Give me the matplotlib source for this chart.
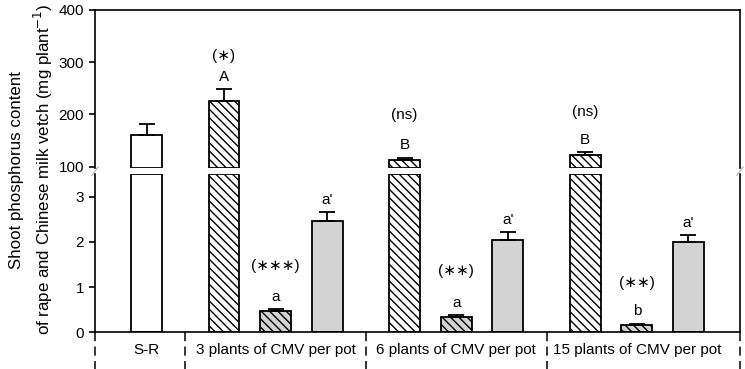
import numpy as np
import matplotlib
matplotlib.use("Agg")
import matplotlib.pyplot as plt
from matplotlib.lines import Line2D

plt.rcParams['font.family'] = ['Liberation Sans', 'DejaVu Sans']
plt.rcParams['hatch.linewidth'] = 1.0

# data (mg plant-1)
groups = ["S-R", "3 plants of CMV per pot", "6 plants of CMV per pot", "15 plants of CMV per pot"]
sole_rape = [160]
sole_rape_err = [21]
inter_rape = [225, 113, 123]
inter_rape_err = [23, 4, 5]
inter_cmv = [0.47, 0.345, 0.16]
inter_cmv_err = [0.04, 0.035, 0.03]
sole_cmv = [2.46, 2.04, 2.0]
sole_cmv_err = [0.19, 0.17, 0.15]
rape_letters = ["A", "B", "B"]
rape_sig = ["(\u2217)", "(ns)", "(ns)"]
cmv_letters = ["a", "a", "b"]
cmv_sig = ["(\u2217\u2217\u2217)", "(\u2217\u2217)", "(\u2217\u2217)"]
sole_cmv_letters = ["a'", "a'", "a'"]

# layout
W = 0.6
group_start = np.array([1.5, 5.0, 8.5])
x_sr = np.array([0.0])
x_ir = group_start
x_ic = group_start + 1
x_sc = group_start + 2
seps = [-1.0, 0.75, 4.25, 7.75, 11.5]
label_x = [0.0, 2.5, 6.0, 9.5]
top_lim = (97, 400)
bot_lim = (0, 3.5)
rape_sig_off = [24, 31, 29]   # points above the error cap
cmv_sig_off = [31, 32, 29]

fig = plt.figure(figsize=(7.45, 3.69), dpi=100)
ax_top = fig.add_axes([0.1275, 0.5439, 0.8658, 0.4290])
ax_bot = fig.add_axes([0.1275, 0.0995, 0.8658, 0.4290])

bar_kw = dict(width=W, edgecolor='black', linewidth=1.3, zorder=2)
err_kw = dict(fmt='none', ecolor='black', elinewidth=1.3, capsize=6, capthick=1.3, zorder=3)
gray = '#d3d3d3'
hatch = '\\\\\\\\'
fs = 11

# top panel: rape only (other bars are below the range)
lo = top_lim[0]
ax_top.bar(x_sr, np.array(sole_rape) - lo, bottom=lo, color='white', **bar_kw)
ax_top.bar(x_ir, np.array(inter_rape) - lo, bottom=lo, color='white', hatch=hatch, **bar_kw)
ax_top.errorbar(x_sr, sole_rape, yerr=[[0], sole_rape_err], **err_kw)
ax_top.errorbar(x_ir, inter_rape, yerr=[[0] * 3, inter_rape_err], **err_kw)

for x, v, e, let, sig, off in zip(x_ir, inter_rape, inter_rape_err, rape_letters, rape_sig, rape_sig_off):
    ax_top.annotate(let, (x, v + e), xytext=(0, 9), textcoords='offset points',
                    ha='center', va='center', fontsize=fs)
    ax_top.annotate(sig, (x, v + e), xytext=(0, off), textcoords='offset points',
                    ha='center', va='center', fontsize=fs)

# bottom panel
hi = bot_lim[1]
ax_bot.bar(x_sr, np.minimum(sole_rape, hi), color='white', **bar_kw)
ax_bot.bar(x_ir, np.minimum(inter_rape, hi), color='white', hatch=hatch, **bar_kw)
ax_bot.bar(x_ic, inter_cmv, color=gray, hatch=hatch, **bar_kw)
ax_bot.bar(x_sc, sole_cmv, color=gray, **bar_kw)
ax_bot.errorbar(x_ic, inter_cmv, yerr=[[0] * 3, inter_cmv_err], **err_kw)
ax_bot.errorbar(x_sc, sole_cmv, yerr=[[0] * 3, sole_cmv_err], **err_kw)

for x, v, e, let, sig, off in zip(x_ic, inter_cmv, inter_cmv_err, cmv_letters, cmv_sig, cmv_sig_off):
    ax_bot.annotate(let, (x, v + e), xytext=(0, 9), textcoords='offset points',
                    ha='center', va='center', fontsize=fs)
    ax_bot.annotate(sig, (x, v + e), xytext=(0, off), textcoords='offset points',
                    ha='center', va='center', fontsize=fs)
for x, v, e, let in zip(x_sc, sole_cmv, sole_cmv_err, sole_cmv_letters):
    ax_bot.annotate(let, (x, v + e), xytext=(0, 9), textcoords='offset points',
                    ha='center', va='center', fontsize=fs)

# axes styling
for ax, lim in ((ax_top, top_lim), (ax_bot, bot_lim)):
    ax.set_xlim(-1, 11.5)
    ax.set_ylim(*lim)
    for s in ax.spines.values():
        s.set_linewidth(1.2)
    ax.tick_params(axis='y', direction='out', length=4, width=1.2, labelsize=11, pad=4)
    ax.set_xticks([])

ax_top.spines['bottom'].set_visible(False)
ax_bot.spines['top'].set_visible(False)
ax_top.set_yticks([100, 200, 300, 400])
ax_bot.set_yticks([0, 1, 2, 3])

# group separators and labels under the axis
for sx in seps:
    ax_bot.add_line(Line2D([sx, sx], [0, -0.235], transform=ax_bot.get_xaxis_transform(),
                           color='black', linewidth=1.1, dashes=(6, 3.5), clip_on=False))
for lx, g in zip(label_x, groups):
    ax_bot.text(lx, -0.115, g, transform=ax_bot.get_xaxis_transform(),
                ha='center', va='center', fontsize=11)

# break marks
for fx in (0.1275, 0.9933):
    fig.add_artist(Line2D([fx - 0.004, fx + 0.004], [0.525, 0.547], color='#bbbbbb', linewidth=1))

fig.text(0.043, 0.54, "Shoot phosphorus content\nof rape and Chinese milk vetch (mg plant$^{-1}$)",
         rotation=90, ha='center', va='center', fontsize=12.2, linespacing=1.45)

fig.savefig("out.png", dpi=100)
